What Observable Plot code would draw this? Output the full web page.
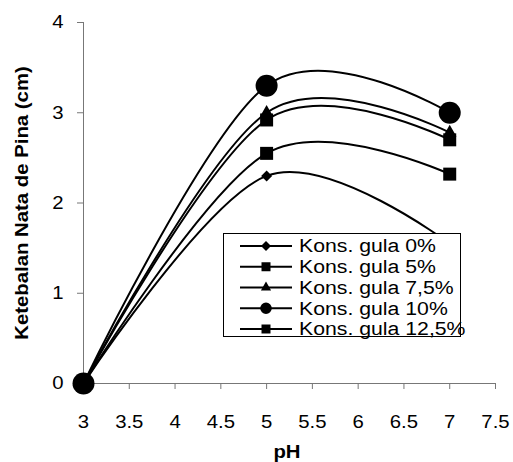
<!DOCTYPE html>
<html><head><meta charset="utf-8">
<script src="https://cdn.jsdelivr.net/npm/d3@7"></script>
<script src="https://cdn.jsdelivr.net/npm/@observablehq/plot@0.6"></script>
<style>body{margin:0;background:#fff}#chart svg{display:block}</style>
</head><body><div id="chart"></div>
<script>
// ---- data ----
const phValues = [3, 5, 7];
const seriesNames = ["Kons. gula 0%", "Kons. gula 5%", "Kons. gula 7,5%", "Kons. gula 10%", "Kons. gula 12,5%"];
const gula0 = [0, 2.3, 1.55];
const gula5 = [0, 2.55, 2.32];
const gula75 = [0, 3.0, 2.78];
const gula10 = [0, 3.3, 3.0];
const gula125 = [0, 2.92, 2.7];
const xTicks = [3, 3.5, 4, 4.5, 5, 5.5, 6, 6.5, 7, 7.5];
const yTicks = [0, 1, 2, 3, 4];
const xTitle = "pH";
const yTitle = "Ketebalan Nata de Pina (cm)";

// ---- styling ----
const seriesValues = [gula0, gula5, gula75, gula10, gula125];
const symbols = ["diamond2", "square", "triangle", "circle", "square"];
const radii = [4.95, 7.33, 5.0, 11, 7.33];
const legendSizes = [64, 81, 45, 106, 81];
const FONT = "'Liberation Sans', Arial, sans-serif";
const FS = 18;
const STRETCH = 1.13;
const LEGEND_STRETCH = 1.18;

const data = seriesNames.flatMap((s, i) =>
  phValues.map((p, j) => ({series: s, ph: p, value: seriesValues[i][j]})));

const marks = [
  Plot.ruleY([0], {stroke: "#777", strokeWidth: 1}),
  Plot.ruleX([3], {stroke: "#777", strokeWidth: 1}),
  Plot.axisX({ticks: xTicks, tickSize: 6, tickPadding: 26, label: null, stroke: "#777",
    tickFormat: d => String(d), fontSize: FS}),
  Plot.axisY({ticks: yTicks, tickSize: 6, tickPadding: 14, label: null, stroke: "#777",
    tickFormat: d => String(d), fontSize: FS})
];
seriesNames.forEach((s, i) => {
  const rows = data.filter(d => d.series === s);
  marks.push(Plot.line(rows, {x: "ph", y: "value", curve: "cardinal", stroke: "black", strokeWidth: 2}));
  marks.push(Plot.dot(rows, {x: "ph", y: "value", symbol: symbols[i], r: radii[i], fill: "black", stroke: "none"}));
});

const chart = Plot.plot({
  width: 513, height: 462,
  marginLeft: 83, marginRight: 18, marginTop: 22, marginBottom: 79,
  x: {domain: [3, 7.5]},
  y: {domain: [0, 4]},
  style: {fontFamily: FONT, fontSize: FS + "px", color: "black", background: "white"},
  marks
});
document.getElementById("chart").appendChild(chart);

const svg = d3.select(chart);
// axis titles
svg.append("text").attr("x", 287).attr("y", 458).attr("text-anchor", "middle")
  .attr("font-weight", "bold").attr("font-size", FS).attr("font-family", FONT).text(xTitle);
svg.append("text").attr("transform", "translate(28,203) rotate(-90)").attr("text-anchor", "middle")
  .attr("font-weight", "bold").attr("font-size", FS).attr("font-family", FONT).text(yTitle);

// widen glyphs slightly to match the reference's wide lettering
svg.selectAll("text").each(function() {
  const L = this.getComputedTextLength();
  if (L > 0) {
    this.setAttribute("textLength", (L * STRETCH).toFixed(2));
    this.setAttribute("lengthAdjust", "spacingAndGlyphs");
  }
});

// legend
const lg = svg.append("g").attr("text-anchor", "start");
lg.append("rect").attr("x", 223.5).attr("y", 233.5).attr("width", 237).attr("height", 103)
  .attr("fill", "white").attr("stroke", "black").attr("stroke-width", 1);
const symMap = {diamond2: d3.symbolDiamond2, square: d3.symbolSquare, triangle: d3.symbolTriangle, circle: d3.symbolCircle};
seriesNames.forEach((s, i) => {
  const cy = 246 + i * 20.75;
  lg.append("line").attr("x1", 240).attr("x2", 292).attr("y1", cy).attr("y2", cy)
    .attr("stroke", "black").attr("stroke-width", 2);
  lg.append("path").attr("transform", `translate(266,${cy})`)
    .attr("d", d3.symbol(symMap[symbols[i]], legendSizes[i])()).attr("fill", "black");
  const t = lg.append("text").attr("x", 299).attr("y", cy + 6.4).attr("font-size", FS)
    .attr("text-anchor", "start").attr("font-family", FONT).text(s);
  const L = t.node().getComputedTextLength();
  t.attr("textLength", (L * LEGEND_STRETCH).toFixed(2)).attr("lengthAdjust", "spacingAndGlyphs");
});
</script>
</body></html>
